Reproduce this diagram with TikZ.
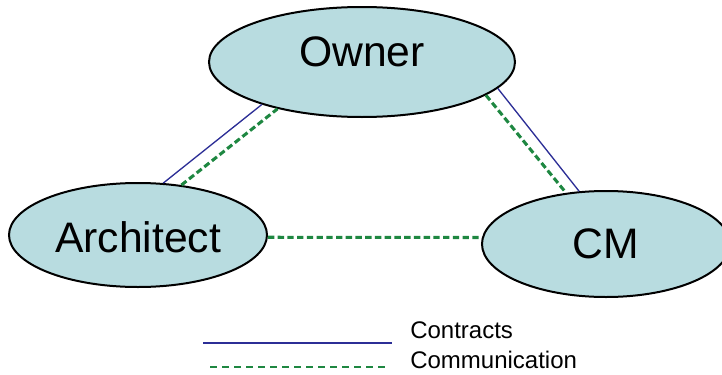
\documentclass[tikz,border=0pt]{standalone}
\usepackage{fontspec}
\setmainfont{Liberation Sans}
\usetikzlibrary{shapes.geometric}
\definecolor{partyfill}{RGB}{184,220,224}
\definecolor{contractblue}{RGB}{44,46,150}
\definecolor{commgreen}{RGB}{30,135,65}
\tikzset{
  party/.style={ellipse, draw=black, line width=1.5pt, fill=partyfill,
    inner sep=0pt, font=\fontsize{32}{38}\selectfont},
  contract/.style={draw=contractblue, line width=1pt},
  comm/.style={draw=commgreen, line width=2.3pt, dash pattern=on 4.8pt off 2.5pt},
  legendcomm/.style={draw=commgreen, line width=1.9pt, dash pattern=on 5.2pt off 3.8pt},
  legendtext/.style={anchor=west, inner sep=0pt, font=\fontsize{18}{21}\selectfont}
}
\begin{document}
\begin{tikzpicture}[x=0.75pt, y=-0.75pt]
\useasboundingbox (0,0) rectangle (722,375);

% the three parties
\node[party, minimum width=229.5pt, minimum height=82.5pt] (owner) at (362,62)
  {\raisebox{8pt}[\height][\depth]{Owner}};
\node[party, minimum width=193.5pt, minimum height=78pt] (arch) at (138,235)
  {\raisebox{-1.5pt}[\height][\depth]{Architect}};
\node[party, minimum width=186pt, minimum height=79.5pt] (cm) at (606,244) {CM};

% contractual links
\draw[contract] (arch.64.3) -- (owner.203.6);
\draw[contract] (owner.349) -- (cm.117);

% communication links
\draw[comm] (arch.49.4) -- (owner.209.4);
\draw[comm] (owner.-15.3) -- (cm.128.3);
\draw[comm] (arch.-1.8) -- (cm.177.7);

% legend
\coordinate (lc1) at (203,343);
\coordinate (lc2) at (392,343);
\coordinate (lm1) at (210,367);
\coordinate (lm2) at (386,367);
\draw[contract, line width=1.1pt] (lc1) -- (lc2);
\draw[legendcomm] (lm1) -- (lm2);
\node[legendtext] (contractslabel) at (410,330) {Contracts};
\node[legendtext] (commlabel) at (410,360) {Communication};
\end{tikzpicture}
\end{document}
